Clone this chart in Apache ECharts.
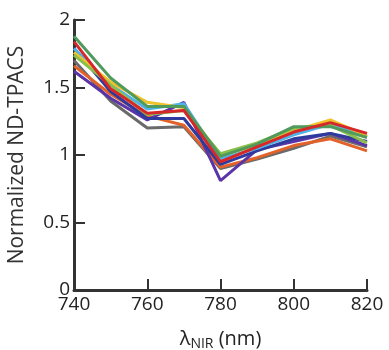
<!DOCTYPE html>
<html><head><meta charset="utf-8">
<script src="https://cdn.jsdelivr.net/npm/echarts@6/dist/echarts.min.js"></script>
<style>html,body{margin:0;padding:0;background:#fff}#c{width:389px;height:350px}</style>
</head><body><div id="c"></div>
<script>
const wavelengths = [740, 750, 760, 770, 780, 790, 800, 810, 820];
const seriesNames = ['green', 'lightgreen', 'yellow', 'lightblue', 'red', 'blue', 'purple', 'orange', 'gray'];
const seriesColors = ['#4f9a5c', '#8bbf4c', '#f0c22c', '#4fb2e8', '#d6282b', '#2f3b9c', '#5b35a8', '#e3622a', '#6a6a6a'];
const greenVals      = [1.88, 1.57, 1.36, 1.36, 0.99, 1.08, 1.21, 1.21, 1.13];
const lightgreenVals = [1.74, 1.52, 1.30, 1.33, 1.01, 1.09, 1.20, 1.22, 1.09];
const yellowVals     = [1.76, 1.54, 1.39, 1.35, 1.00, 1.07, 1.18, 1.26, 1.14];
const lightblueVals  = [1.79, 1.52, 1.34, 1.38, 0.97, 1.05, 1.15, 1.23, 1.14];
const redVals        = [1.84, 1.49, 1.31, 1.33, 0.95, 1.06, 1.17, 1.24, 1.16];
const blueVals       = [1.79, 1.47, 1.27, 1.27, 0.93, 1.03, 1.12, 1.16, 1.10];
const purpleVals     = [1.62, 1.42, 1.26, 1.39, 0.81, 1.04, 1.10, 1.16, 1.07];
const orangeVals     = [1.66, 1.45, 1.29, 1.22, 0.91, 0.98, 1.07, 1.12, 1.03];
const grayVals       = [1.70, 1.40, 1.20, 1.21, 0.90, 0.97, 1.05, 1.14, 1.06];
const allVals = [greenVals, lightgreenVals, yellowVals, lightblueVals, redVals, blueVals, purpleVals, orangeVals, grayVals];
// draw order: bottom first
const drawOrder = [8, 7, 6, 5, 3, 2, 1, 0, 4];

const font = '"Open Sans", "Noto Sans", sans-serif';
const chart = echarts.init(document.getElementById('c'), null, {renderer: 'canvas'});
chart.setOption({
  animation: false,
  grid: {left: 74, right: 22, top: 20, bottom: 60, containLabel: false, outerBoundsMode: 'none'},
  xAxis: {
    type: 'value', min: 740, max: 820, interval: 20,
    name: '{a|λ}{s|NIR}{a| (nm)}', nameLocation: 'middle', nameGap: 38,
    nameTextStyle: {rich: {
      a: {fontFamily: font, fontSize: 20, color: '#222'},
      s: {fontFamily: font, fontSize: 14, color: '#222', verticalAlign: 'bottom', padding: [9, 0, 0, 0]}
    }},
    axisLine: {lineStyle: {color: '#333', width: 3}},
    axisTick: {inside: true, length: 11, lineStyle: {color: '#333', width: 2}},
    axisLabel: {fontFamily: font, fontSize: 19, color: '#222', margin: 5},
    splitLine: {show: false}
  },
  yAxis: {
    type: 'value', min: 0, max: 2, interval: 0.5,
    name: 'Normalized ND-TPACS', nameLocation: 'middle', nameGap: 46,
    nameTextStyle: {fontFamily: font, fontSize: 21, color: '#333'},
    axisLine: {show: true, lineStyle: {color: '#333', width: 3}},
    axisTick: {show: true, inside: true, length: 11, lineStyle: {color: '#333', width: 2}},
    axisLabel: {fontFamily: font, fontSize: 19, color: '#222', margin: 4},
    splitLine: {show: false}
  },
  series: drawOrder.map(i => ({
    name: seriesNames[i], type: 'line', symbol: 'none',
    lineStyle: {width: 3, color: seriesColors[i]},
    itemStyle: {color: seriesColors[i]},
    data: wavelengths.map((w, k) => [w, allVals[i][k]])
  }))
});
</script></body></html>
